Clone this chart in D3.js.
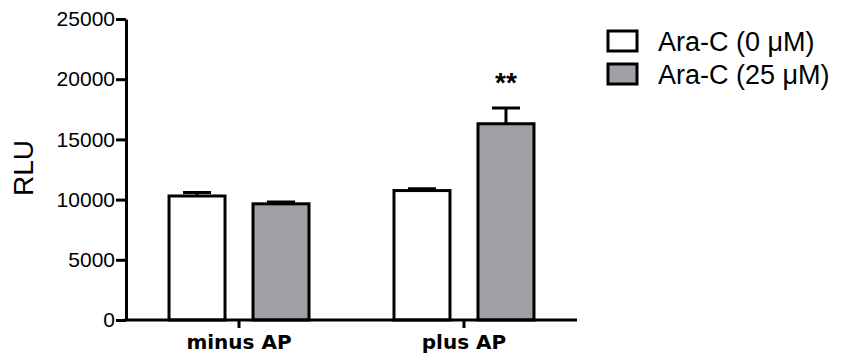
<!DOCTYPE html>
<html>
<head>
<meta charset="utf-8">
<style>
  body { margin: 0; background: #fff; }
  svg { display: block; }
  .axis path, .axis line { stroke: #000; stroke-width: 3px; }
  .ytick text { font-family: Arial, "Liberation Sans", sans-serif; font-size: 21px; fill: #000; }
  .xtick text { font-family: Verdana, "DejaVu Sans", sans-serif; font-size: 20px; font-weight: bold; fill: #000; }
  .bar { stroke: #000; stroke-width: 3px; }
  .err { stroke: #000; stroke-width: 3px; fill: none; }
</style>
</head>
<body>
<svg width="843" height="360"></svg>
<script src="https://d3js.org/d3.v7.min.js"></script>
<script>
// data
var groups = ["minus AP", "plus AP"];
var series = ["Ara-C (0 \u03BCM)", "Ara-C (25 \u03BCM)"];
var ctrlMean = [10300, 10750];
var ctrlErr = [300, 150];
var araMean = [9650, 16300];
var araErr = [150, 1300];
var yTicks = [0, 5000, 10000, 15000, 20000, 25000];
var stars = ["", "**"];   // significance above the Ara-C bar

var colors = ["#ffffff", "#a0a0a4"];

var svg = d3.select("svg");

var plotLeft = 126, plotRight = 577, plotTop = 19, plotBottom = 320;

var x0 = d3.scaleBand().domain(groups).range([plotLeft, plotRight])
    .paddingInner(0.2533).paddingOuter(0.129);
var x1 = d3.scaleBand().domain(series).range([0, x0.bandwidth()])
    .paddingInner(1 / 3).paddingOuter(1 / 6);
var y = d3.scaleLinear().domain([0, 25000]).range([plotBottom, plotTop]);

var rows = [];
groups.forEach(function(g, i) {
  rows.push({group: g, s: series[0], mean: ctrlMean[i], err: ctrlErr[i], col: colors[0], star: ""});
  rows.push({group: g, s: series[1], mean: araMean[i], err: araErr[i], col: colors[1], star: stars[i]});
});

// bars
var bar = svg.selectAll("g.barg")
  .data(rows)
  .enter().append("g")
  .attr("class", "barg")
  .attr("transform", function(d) { return "translate(" + (x0(d.group) + x1(d.s)) + ",0)"; });

bar.append("rect")
  .attr("class", "bar")
  .attr("x", 0)
  .attr("width", x1.bandwidth())
  .attr("y", function(d) { return y(d.mean); })
  .attr("height", function(d) { return y(0) - y(d.mean); })
  .attr("fill", function(d) { return d.col; });

// error bars, upper side only
var cap = 14;
bar.append("path")
  .attr("class", "err")
  .attr("d", function(d) {
    var cx = x1.bandwidth() / 2;
    return "M" + cx + "," + y(d.mean) + "V" + y(d.mean + d.err) +
           "M" + (cx - cap) + "," + y(d.mean + d.err) + "H" + (cx + cap);
  });

bar.append("text")
  .attr("x", x1.bandwidth() / 2)
  .attr("y", function(d) { return y(d.mean + d.err) - 16; })
  .attr("text-anchor", "middle")
  .style("font-family", "Arial, 'Liberation Sans', sans-serif")
  .style("font-size", "28px")
  .style("font-weight", "bold")
  .text(function(d) { return d.star; });

// y axis
var yAxis = svg.append("g")
  .attr("class", "axis ytick")
  .attr("transform", "translate(" + plotLeft + ",0)")
  .call(d3.axisLeft(y).tickValues(yTicks).tickFormat(d3.format("d")).tickSize(10).tickSizeOuter(0).tickPadding(1));

// x axis
var xAxis = svg.append("g")
  .attr("class", "axis xtick")
  .attr("transform", "translate(0," + plotBottom + ")")
  .call(d3.axisBottom(x0).tickSize(8).tickSizeOuter(0).tickPadding(7));
xAxis.select(".domain").attr("d", "M" + (plotLeft - 1.5) + ",0H" + plotRight);

// y title
svg.append("text")
  .attr("transform", "translate(33,168) rotate(-90)")
  .attr("text-anchor", "middle")
  .style("font-family", "Arial, 'Liberation Sans', sans-serif")
  .style("font-size", "28px")
  .text("RLU");

// legend
var legend = svg.selectAll("g.leg")
  .data(series)
  .enter().append("g")
  .attr("class", "leg")
  .attr("transform", function(d, i) { return "translate(608," + (31 + i * 33) + ")"; });

legend.append("rect")
  .attr("width", 29)
  .attr("height", 20)
  .attr("fill", function(d, i) { return colors[i]; })
  .attr("stroke", "#000")
  .attr("stroke-width", 3);

legend.append("text")
  .attr("x", 50)
  .attr("y", 20)
  .style("font-family", "Arial, 'Liberation Sans', sans-serif")
  .style("font-size", "27px")
  .text(function(d) { return d; });
</script>
</body>
</html>
